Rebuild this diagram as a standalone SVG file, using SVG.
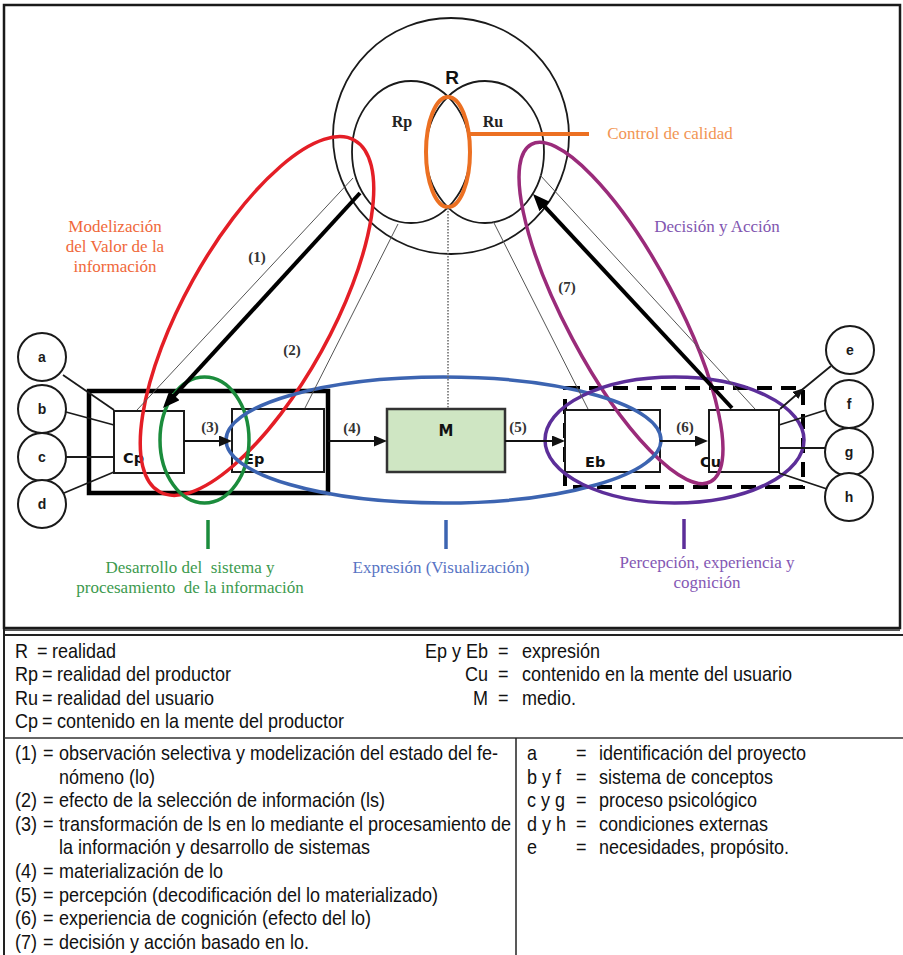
<svg xmlns="http://www.w3.org/2000/svg" width="903" height="955" viewBox="0 0 903 955">
  <defs>
    <style>
      .ink{fill:none;stroke:#1a1a1a;stroke-width:1.8}
      .box{fill:#fff;stroke:#1a1a1a;stroke-width:2}
      .ltr{font-family:"Liberation Sans",Arial,sans-serif;font-size:14px;font-weight:bold;fill:#1a1a1a;text-anchor:middle}
      .blbl{font-family:"DejaVu Sans","Liberation Sans",sans-serif;font-size:14.5px;font-weight:bold;fill:#111}
      .step{font-family:"Liberation Serif","Times New Roman",serif;font-size:15px;font-weight:bold;fill:#333;text-anchor:middle}
      .thin{stroke:#555;stroke-width:1;fill:none}
      .flow{stroke:#111;stroke-width:2;fill:none;marker-end:url(#head)}
      .thick{stroke:#000;stroke-width:4;fill:none;marker-end:url(#bighead)}
      .zone{fill:none;stroke-width:3.5}
      .cap{font-family:"Liberation Serif","Times New Roman",serif;font-size:17px;text-anchor:middle}
      .leg{font-family:"Liberation Sans",Arial,sans-serif;font-size:20px;fill:#111}
      .end{text-anchor:end}
    </style>
    <marker id="head" markerUnits="userSpaceOnUse" markerWidth="13" markerHeight="11" refX="7" refY="5.5" orient="auto">
      <path d="M0,0 L13,5.5 L0,11 z" fill="#111"/>
    </marker>
    <marker id="bighead" markerUnits="userSpaceOnUse" markerWidth="17" markerHeight="14" refX="5" refY="7" orient="auto">
      <path d="M0,0 L17,7 L0,14 z" fill="#000"/>
    </marker>
    <marker id="tiphead" markerUnits="userSpaceOnUse" markerWidth="11" markerHeight="9" refX="10" refY="4.5" orient="auto">
      <path d="M0,0 L11,4.5 L0,9 z" fill="#111"/>
    </marker>
  </defs>

  <rect width="903" height="955" fill="#fff"/>

  <!-- diagram frame -->
  <rect x="4" y="5" width="896" height="623" fill="none" stroke="#1a1a1a" stroke-width="2.5"/>
  <line x1="4" y1="630" x2="900" y2="630" stroke="#555" stroke-width="2"/>

  <!-- reality circles -->
  <g id="reality">
    <circle class="ink" cx="451" cy="136" r="118"/>
    <ellipse class="ink" cx="411" cy="152" rx="59" ry="71"/>
    <ellipse class="ink" cx="485" cy="152" rx="59" ry="71"/>
    <text x="452" y="84" font-family="Liberation Sans,Arial,sans-serif" font-size="19" font-weight="bold" text-anchor="middle" fill="#111">R</text>
    <text x="402" y="127" font-family="Liberation Serif,serif" font-size="16" font-weight="bold" text-anchor="middle" fill="#222">Rp</text>
    <text x="493" y="127" font-family="Liberation Serif,serif" font-size="16" font-weight="bold" text-anchor="middle" fill="#222">Ru</text>
  </g>

  <!-- producer side -->
  <g id="producer-frame">
    <rect x="89" y="391" width="239" height="102" fill="none" stroke="#000" stroke-width="4.5"/>
  </g>
  <g id="Cp">
    <rect class="box" x="114" y="411" width="70" height="62"/>
    <text class="blbl" x="123" y="463">Cp</text>
  </g>
  <g id="Ep">
    <rect class="box" x="232" y="409" width="92" height="63"/>
    <text class="blbl" x="244" y="464">Ep</text>
  </g>
  <g id="M">
    <rect x="387" y="409" width="118" height="63" fill="#cfe6c3" stroke="#333" stroke-width="2.5"/>
    <text x="446" y="436" font-family="DejaVu Sans,Liberation Sans,sans-serif" font-size="15" font-weight="bold" text-anchor="middle" fill="#111">M</text>
  </g>

  <!-- user side -->
  <g id="user-frame">
    <rect x="565" y="388" width="238" height="99" fill="none" stroke="#000" stroke-width="4" stroke-dasharray="15 9"/>
  </g>
  <g id="Eb">
    <rect class="box" x="565" y="410" width="95" height="62"/>
    <text class="blbl" x="585" y="467">Eb</text>
  </g>
  <g id="Cu">
    <rect class="box" x="709" y="410" width="70" height="62"/>
    <text class="blbl" x="700" y="467">Cu</text>
  </g>

  <!-- factor circles -->
  <g id="a"><circle class="box" cx="42" cy="357" r="24"/><text class="ltr" x="42" y="362">a</text></g>
  <g id="b"><circle class="box" cx="42" cy="409" r="24"/><text class="ltr" x="42" y="414">b</text></g>
  <g id="c"><circle class="box" cx="42" cy="457" r="24"/><text class="ltr" x="42" y="462">c</text></g>
  <g id="d"><circle class="box" cx="42" cy="504" r="24"/><text class="ltr" x="42" y="509">d</text></g>
  <g id="e"><circle class="box" cx="850" cy="350" r="24"/><text class="ltr" x="850" y="355">e</text></g>
  <g id="f"><circle class="box" cx="849" cy="404" r="24"/><text class="ltr" x="849" y="409">f</text></g>
  <g id="g"><circle class="box" cx="849" cy="452" r="24"/><text class="ltr" x="849" y="457">g</text></g>
  <g id="h"><circle class="box" cx="849" cy="497" r="24"/><text class="ltr" x="849" y="502">h</text></g>

  <!-- process zones -->
  <g id="zones">
    <ellipse class="zone" stroke="#e41e26" cx="257" cy="316" rx="201" ry="73.5" transform="rotate(-61 257 316)"/>
    <ellipse class="zone" stroke="#9a2b7a" cx="621" cy="313" rx="191" ry="55" transform="rotate(62 621 313)"/>
    <ellipse class="zone" stroke="#1b8c3c" cx="204.5" cy="440" rx="44.5" ry="63"/>
    <ellipse class="zone" stroke="#3c64b1" cx="443.5" cy="440" rx="217.5" ry="63"/>
    <ellipse class="zone" stroke="#5c2e99" cx="674.5" cy="440" rx="129.5" ry="63"/>
    <ellipse fill="none" stroke="#ec7022" stroke-width="4" cx="448" cy="152" rx="22" ry="55"/>
    <line x1="470" y1="134" x2="589" y2="134" stroke="#ec7022" stroke-width="4"/>
  </g>

  <!-- connectors -->
  <g id="connectors">
    <line class="thin" x1="353" y1="178" x2="137" y2="410"/>
    <line class="thin" x1="398" y1="224" x2="305" y2="408"/>
    <line class="thin" x1="493" y1="221" x2="588" y2="409"/>
    <line class="thin" x1="540" y1="175" x2="755" y2="409"/>
    <line x1="448" y1="208" x2="448" y2="408" stroke="#666" stroke-width="1.5" stroke-dasharray="1.5 1.5"/>
    <line class="thick" x1="360" y1="193" x2="171.1" y2="399.2"/>
    <line class="thick" x1="732" y1="408" x2="541.2" y2="202.8"/>
    <line class="flow" x1="184" y1="441" x2="226" y2="441"/>
    <line class="flow" x1="328" y1="441" x2="381" y2="441"/>
    <line class="flow" x1="505" y1="441" x2="559" y2="441"/>
    <line class="flow" x1="660" y1="441" x2="702" y2="441"/>
    <g stroke="#1a1a1a" stroke-width="1.8" fill="none">
      <line x1="63" y1="375" x2="114" y2="410"/>
      <line x1="66" y1="412" x2="114" y2="425"/>
      <line x1="66" y1="457" x2="114" y2="457"/>
      <line x1="64" y1="493" x2="114" y2="472"/>
      <path d="M780,409 L803,389 L831,366" marker-mid="url(#tiphead)"/>
      <line x1="779" y1="425" x2="826" y2="410"/>
      <line x1="779" y1="448" x2="825" y2="448"/>
      <line x1="779" y1="473" x2="827" y2="489"/>
    </g>
    <text class="step" x="257" y="262">(1)</text>
    <text class="step" x="292" y="355">(2)</text>
    <text class="step" x="210" y="432">(3)</text>
    <text class="step" x="352" y="433">(4)</text>
    <text class="step" x="518" y="432">(5)</text>
    <text class="step" x="685" y="432">(6)</text>
    <text class="step" x="567" y="292">(7)</text>
  </g>

  <!-- zone captions -->
  <g id="captions">
    <text class="cap" fill="#f0683a" x="115" y="232">Modelización</text>
    <text class="cap" fill="#f0683a" x="115" y="252">del Valor de la</text>
    <text class="cap" fill="#f0683a" x="115" y="272">información</text>
    <text class="cap" fill="#f29554" x="670" y="139">Control de calidad</text>
    <text class="cap" fill="#8256b0" x="717" y="232">Decisión y Acción</text>
    <line x1="208" y1="520" x2="208" y2="549" stroke="#1b8c3c" stroke-width="3.5"/>
    <line x1="446" y1="520" x2="446" y2="549" stroke="#3c64b1" stroke-width="3.5"/>
    <line x1="684" y1="519" x2="684" y2="549" stroke="#5c2e99" stroke-width="3.5"/>
    <text class="cap" fill="#3c9a4e" x="190" y="573" xml:space="preserve">Desarrollo del  sistema y</text>
    <text class="cap" fill="#3c9a4e" x="190" y="593" xml:space="preserve">procesamiento  de la información</text>
    <text class="cap" fill="#5874c4" x="441" y="573">Expresión (Visualización)</text>
    <text class="cap" fill="#8458b4" x="707" y="568">Percepción, experiencia y</text>
    <text class="cap" fill="#8458b4" x="707" y="588">cognición</text>
  </g>

  <!-- legend: table rules, then condensed text (x values are in the 0.9-scaled space) -->
  <g id="legend">
    <line x1="4" y1="635" x2="903" y2="635" stroke="#222" stroke-width="2"/>
    <line x1="4" y1="629" x2="4" y2="955" stroke="#222" stroke-width="2"/>
    <line x1="4" y1="738" x2="903" y2="738" stroke="#333" stroke-width="1.5"/>
    <line x1="516" y1="738" x2="516" y2="955" stroke="#222" stroke-width="1.5"/>

    <g class="leg" transform="scale(0.9 1)">
      <text x="16.7" y="658">R</text><text x="41.1" y="658">=</text><text x="57.8" y="658">realidad</text>
      <text x="16.7" y="681.5">Rp</text><text x="46.7" y="681.5">=</text><text x="63.3" y="681.5">realidad del productor</text>
      <text x="16.7" y="705">Ru</text><text x="46.7" y="705">=</text><text x="63.3" y="705">realidad del usuario</text>
      <text x="16.7" y="728.5">Cp</text><text x="46.7" y="728.5">=</text><text x="63.3" y="728.5">contenido en la mente del productor</text>

      <text class="end" x="542.2" y="658">Ep y Eb</text><text x="553.3" y="658">=</text><text x="580" y="658">expresión</text>
      <text class="end" x="542.2" y="681.5">Cu</text><text x="553.3" y="681.5">=</text><text x="580" y="681.5">contenido en la mente del usuario</text>
      <text class="end" x="542.2" y="705">M</text><text x="553.3" y="705">=</text><text x="580" y="705">medio.</text>

      <text x="16.7" y="760">(1)</text><text x="47.8" y="760">=</text><text x="65.6" y="760">observación selectiva y modelización del estado del fe-</text>
      <text x="65.6" y="783.6">nómeno (lo)</text>
      <text x="16.7" y="807.2">(2)</text><text x="47.8" y="807.2">=</text><text x="65.6" y="807.2">efecto de la selección de información (ls)</text>
      <text x="16.7" y="830.8">(3)</text><text x="47.8" y="830.8">=</text><text x="65.6" y="830.8">transformación de ls en lo mediante el procesamiento de</text>
      <text x="65.6" y="854.4">la información y desarrollo de sistemas</text>
      <text x="16.7" y="878">(4)</text><text x="47.8" y="878">=</text><text x="65.6" y="878">materialización de lo</text>
      <text x="16.7" y="901.6">(5)</text><text x="47.8" y="901.6">=</text><text x="65.6" y="901.6">percepción (decodificación del lo materializado)</text>
      <text x="16.7" y="925.2">(6)</text><text x="47.8" y="925.2">=</text><text x="65.6" y="925.2">experiencia de cognición (efecto del lo)</text>
      <text x="16.7" y="948.8">(7)</text><text x="47.8" y="948.8">=</text><text x="65.6" y="948.8">decisión y acción basado en lo.</text>

      <text x="585.6" y="760">a</text><text x="640" y="760">=</text><text x="665.6" y="760">identificación del proyecto</text>
      <text x="585.6" y="783.6">b y f</text><text x="640" y="783.6">=</text><text x="665.6" y="783.6">sistema de conceptos</text>
      <text x="585.6" y="807.2">c y g</text><text x="640" y="807.2">=</text><text x="665.6" y="807.2">proceso psicológico</text>
      <text x="585.6" y="830.8">d y h</text><text x="640" y="830.8">=</text><text x="665.6" y="830.8">condiciones externas</text>
      <text x="585.6" y="854.4">e</text><text x="640" y="854.4">=</text><text x="665.6" y="854.4">necesidades, propósito.</text>
    </g>
  </g>
</svg>
